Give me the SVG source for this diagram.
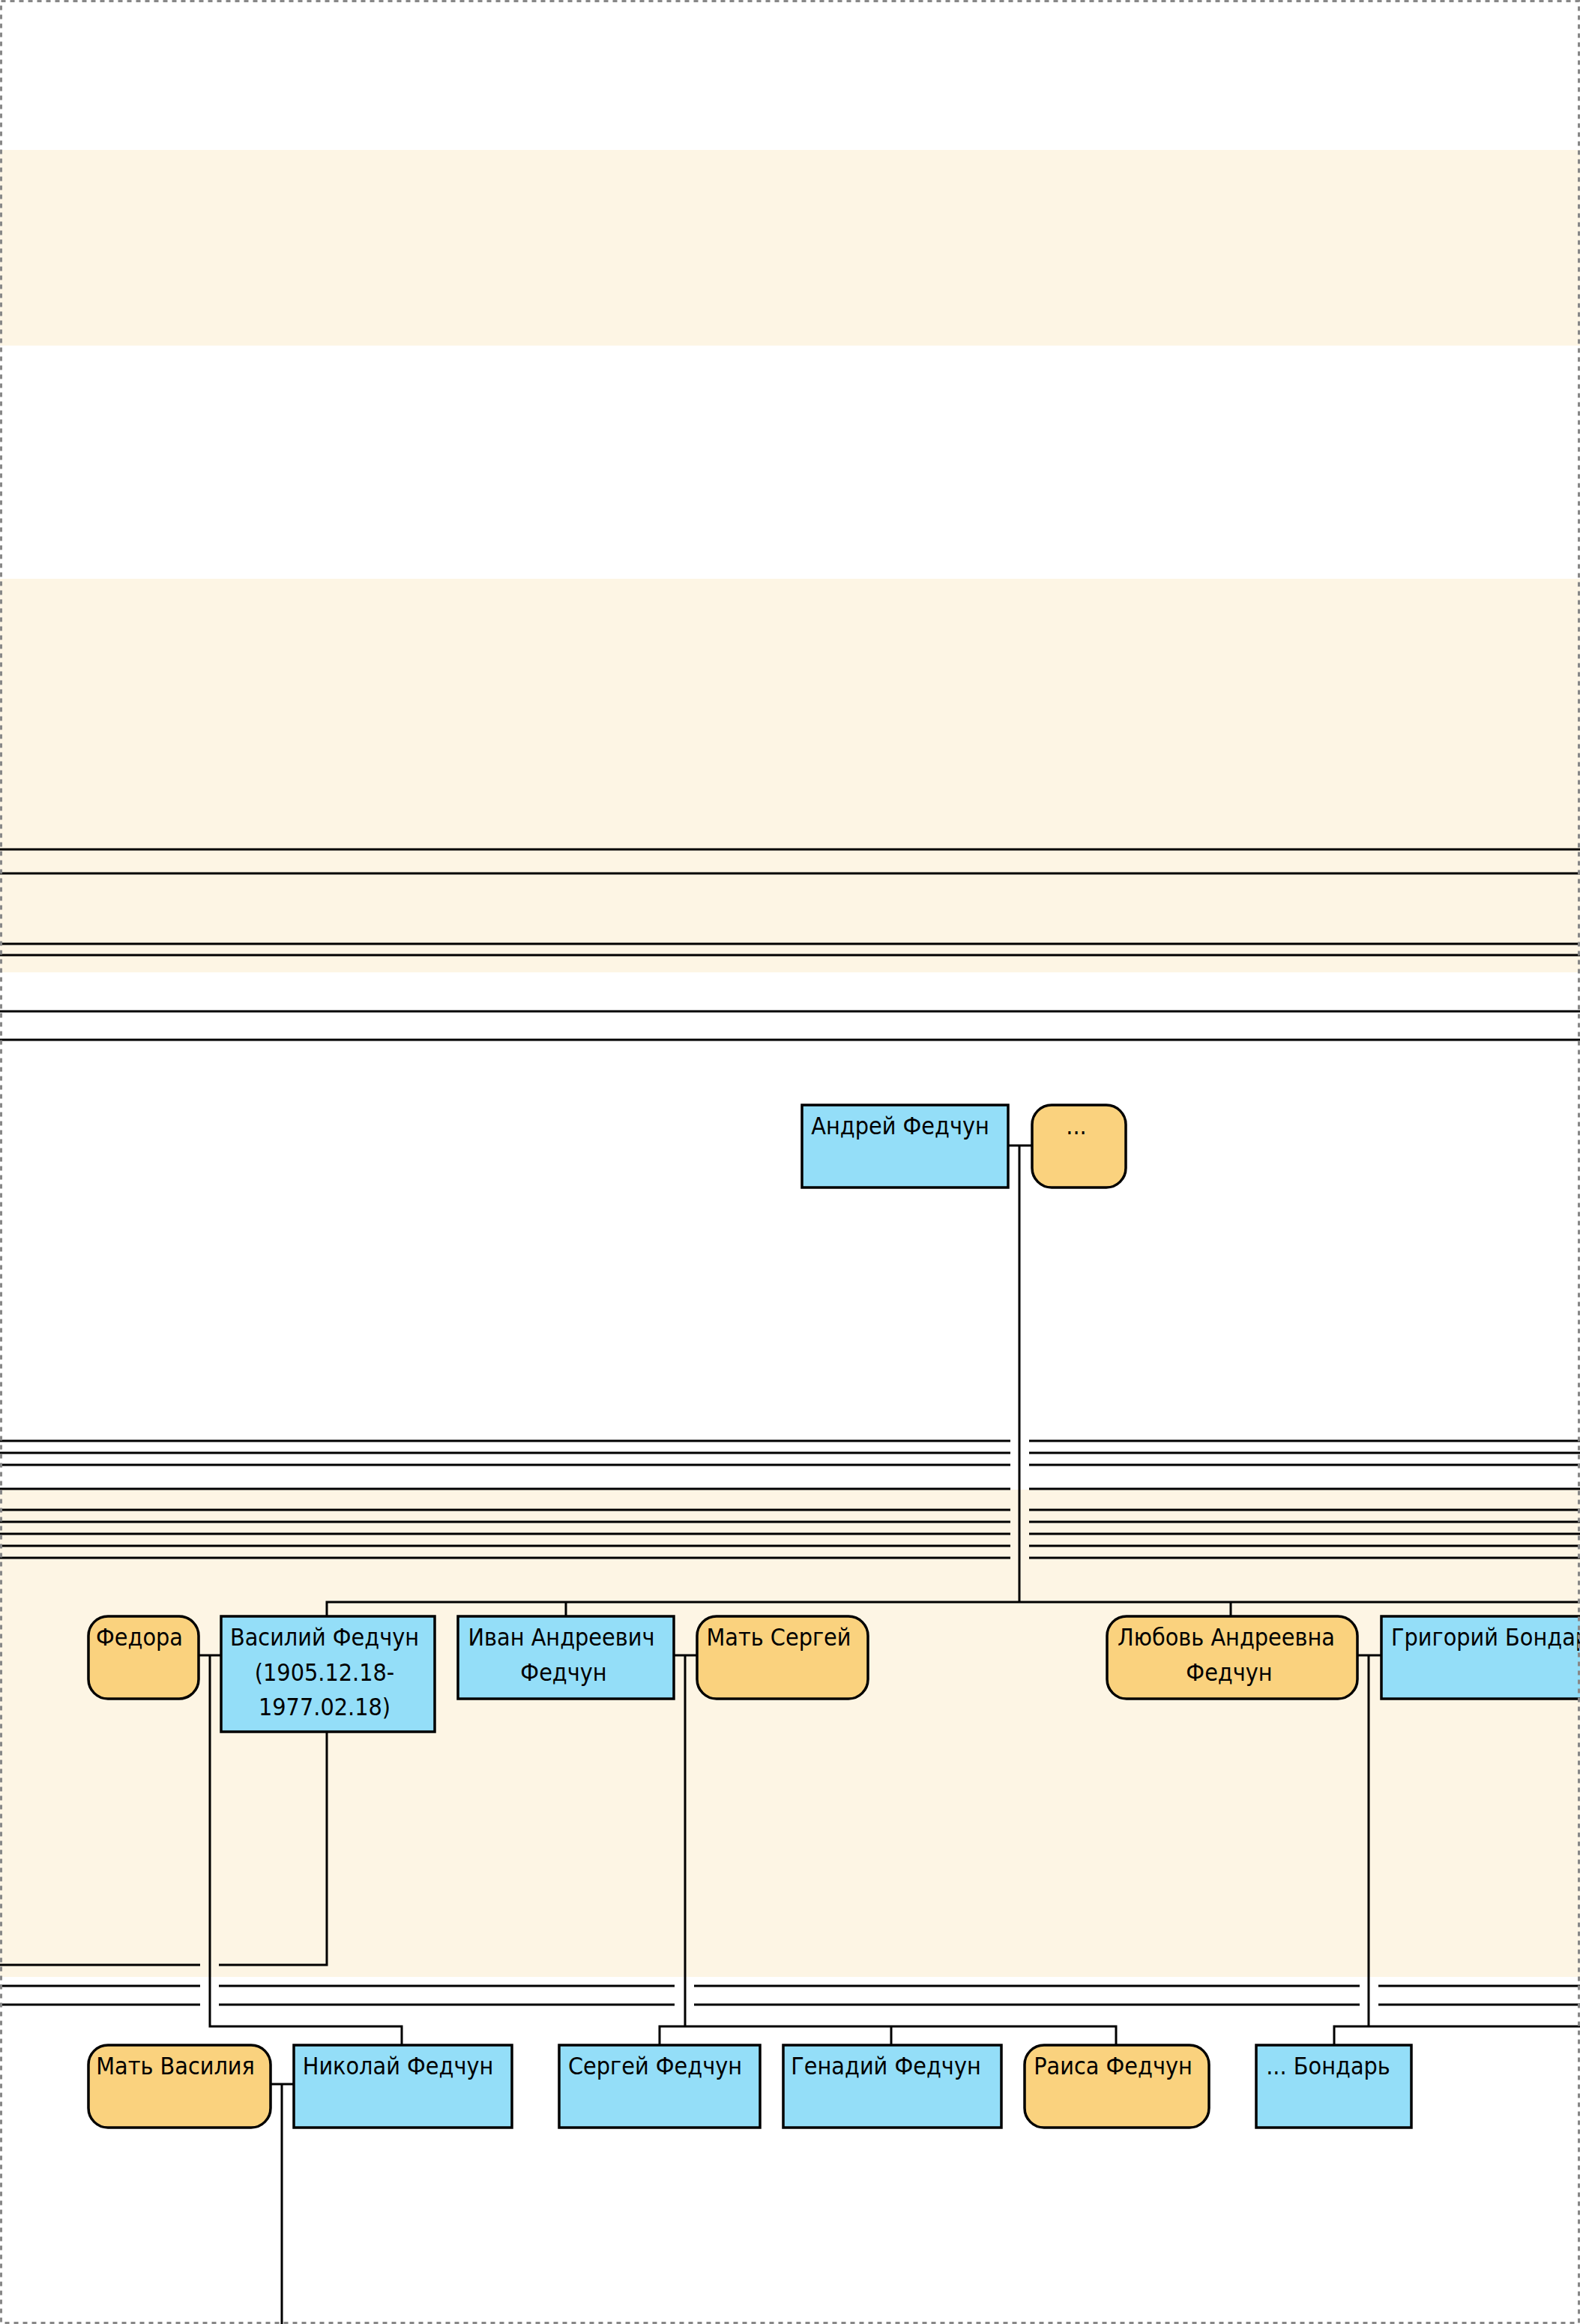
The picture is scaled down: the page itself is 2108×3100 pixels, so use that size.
<svg xmlns="http://www.w3.org/2000/svg" width="2108" height="3100" viewBox="0 0 2108 3100">
<style>
.band{fill:#FDF5E4;stroke:none}
.m{fill:#94DEF8;stroke:#000;stroke-width:3.5}
.f{fill:#FAD27E;stroke:#000;stroke-width:3.5}
.t{font-family:'DejaVu Sans Condensed','DejaVu Sans',sans-serif;font-stretch:condensed;font-size:32px;fill:#000;text-anchor:middle}
.tl{font-family:'DejaVu Sans Condensed','DejaVu Sans',sans-serif;font-stretch:condensed;font-size:32px;fill:#000}
#connectors path{fill:none;stroke:#000;stroke-width:3}
</style>
<rect x="0" y="0" width="2108" height="3100" fill="#fff"/>
<g id="bands">
<rect class="band" x="0" y="200" width="2108" height="261"/>
<rect class="band" x="0" y="772" width="2108" height="525"/>
<rect class="band" x="0" y="1987" width="2108" height="650"/>
</g>
<g id="connectors">
<path d="M0 1133H2108M0 1165H2108M0 1259H2108M0 1274H2108M0 1349H2108M0 1387H2108"/>
<path d="M0 1922H1348M1373 1922H2108M0 1938H1348M1373 1938H2108M0 1954H1348M1373 1954H2108M0 1986H1348M1373 1986H2108M0 2014H1348M1373 2014H2108M0 2030H1348M1373 2030H2108M0 2046H1348M1373 2046H2108M0 2062H1348M1373 2062H2108M0 2078H1348M1373 2078H2108"/>
<path d="M1345 1528H1377M1360 1528V2137"/>
<path d="M436 2156V2137H2108M755 2137V2156M1642 2137V2156"/>
<path d="M265 2208H295M280 2208V2703H536V2728"/>
<path d="M899 2208H930M914 2208V2703M880 2728V2703H1489V2728M1189 2703V2728"/>
<path d="M1811 2208H1843M1826 2208V2703M1780 2728V2703H2108"/>
<path d="M436 2310V2621H292M267 2621H0"/>
<path d="M0 2649H267M292 2649H900M926 2649H1814M1839 2649H2108M0 2674H267M292 2674H900M926 2674H1814M1839 2674H2108"/>
<path d="M361 2780H392M376 2780V3100"/>
</g>
<g id="n-andrey"><rect class="m" x="1070" y="1474" width="275" height="110"/><text class="t" x="1201" y="1513">Андрей Федчун</text></g>
<g id="n-andrey-wife"><rect class="f" x="1377" y="1474" width="125" height="110" rx="26"/><text class="t" x="1436" y="1513">...</text></g>
<g id="n-fedora"><rect class="f" x="118" y="2156" width="147" height="110" rx="26"/><text class="t" x="186" y="2195">Федора</text></g>
<g id="n-vasily"><rect class="m" x="295" y="2156" width="285" height="154"/><text class="t" x="433" y="2195">Василий Федчун</text><text class="t" x="433" y="2242">(1905.12.18-</text><text class="t" x="433" y="2288">1977.02.18)</text></g>
<g id="n-ivan"><rect class="m" x="611" y="2156" width="288" height="110"/><text class="t" x="749" y="2195">Иван Андреевич</text><text class="t" x="752" y="2242">Федчун</text></g>
<g id="n-mat-sergey"><rect class="f" x="930" y="2156" width="228" height="110" rx="26"/><text class="t" x="1039" y="2195">Мать Сергей</text></g>
<g id="n-lyubov"><rect class="f" x="1477" y="2156" width="334" height="110" rx="26"/><text class="t" x="1636" y="2195">Любовь Андреевна</text><text class="t" x="1640" y="2242">Федчун</text></g>
<g id="n-grigoriy"><rect class="m" x="1843" y="2156" width="330" height="110"/><text class="tl" x="1856" y="2195">Григорий Бондарь</text></g>
<g id="n-mat-vasiliya"><rect class="f" x="118" y="2728" width="243" height="110" rx="26"/><text class="t" x="234" y="2767">Мать Василия</text></g>
<g id="n-nikolay"><rect class="m" x="392" y="2728" width="291" height="110"/><text class="t" x="531" y="2767">Николай Федчун</text></g>
<g id="n-sergey"><rect class="m" x="746" y="2728" width="268" height="110"/><text class="t" x="874" y="2767">Сергей Федчун</text></g>
<g id="n-genadiy"><rect class="m" x="1045" y="2728" width="291" height="110"/><text class="t" x="1182" y="2767">Генадий Федчун</text></g>
<g id="n-raisa"><rect class="f" x="1367" y="2728" width="246" height="110" rx="26"/><text class="t" x="1485" y="2767">Раиса Федчун</text></g>
<g id="n-bondar"><rect class="m" x="1676" y="2728" width="207" height="110"/><text class="t" x="1772" y="2767">... Бондарь</text></g>
<rect x="1.5" y="1.5" width="2105" height="3097" fill="none" stroke="#888" stroke-width="3" stroke-dasharray="6 6"/>
</svg>
